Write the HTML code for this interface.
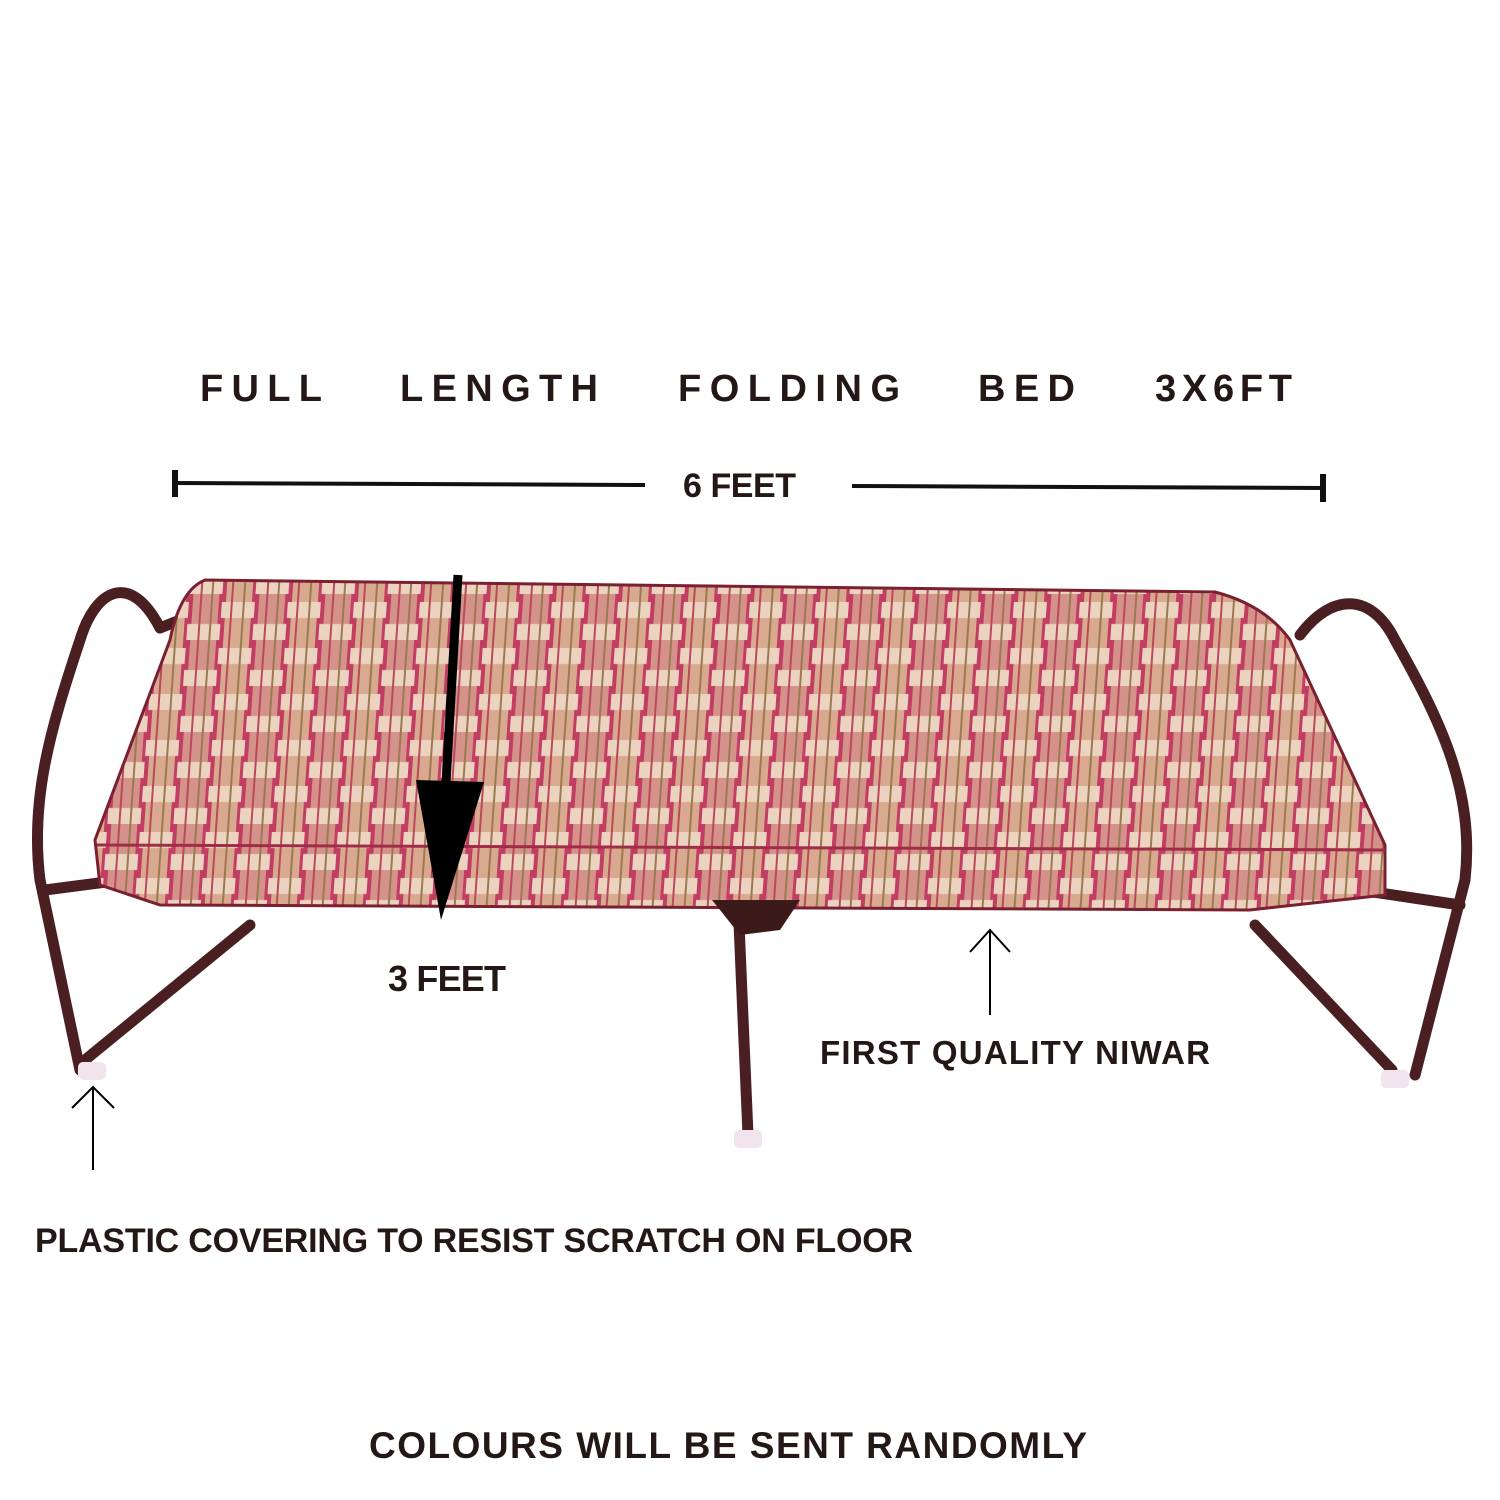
<!DOCTYPE html>
<html><head><meta charset="utf-8"><style>
html,body{margin:0;padding:0;background:#fff}
svg{display:block}
text{font-family:"Liberation Sans",sans-serif;font-weight:bold;fill:#231815}
</style></head><body>
<svg width="1500" height="1500" viewBox="0 0 1500 1500">
<defs>
<pattern id="weave" width="66" height="46" patternUnits="userSpaceOnUse" patternTransform="skewX(-4)">
<rect width="66" height="46" fill="#c23d62"/>
<rect x="4" y="0" width="26" height="46" fill="#d9a98f"/>
<rect x="37" y="0" width="26" height="46" fill="#d4928a"/>
<rect x="0" y="4" width="33" height="16" fill="#ecd3c0"/>
<rect x="33" y="26" width="33" height="16" fill="#ecd3c0"/>
<line x1="10" y1="0" x2="10" y2="46" stroke="#b84a5a" stroke-width="2"/>
<line x1="22" y1="0" x2="22" y2="46" stroke="#9a7a50" stroke-width="2"/>
<line x1="45" y1="0" x2="45" y2="46" stroke="#b84a5a" stroke-width="2"/>
<line x1="56" y1="0" x2="56" y2="46" stroke="#9a7a50" stroke-width="2"/>
</pattern>
</defs>

<g font-size="38">
<text x="200" y="401" textLength="122" lengthAdjust="spacing">FULL</text>
<text x="400" y="401" textLength="198" lengthAdjust="spacing">LENGTH</text>
<text x="678" y="401" textLength="222" lengthAdjust="spacing">FOLDING</text>
<text x="978" y="401" textLength="97" lengthAdjust="spacing">BED</text>
<text x="1155" y="401" textLength="137" lengthAdjust="spacing">3X6FT</text>
</g>

<line x1="175" y1="483" x2="645" y2="485" stroke="#111" stroke-width="4"/>
<line x1="175" y1="470" x2="175" y2="497" stroke="#111" stroke-width="6"/>
<line x1="852" y1="486" x2="1323" y2="488" stroke="#111" stroke-width="4"/>
<line x1="1323" y1="474" x2="1323" y2="502" stroke="#111" stroke-width="6"/>
<text x="683" y="497" font-size="34" textLength="113">6 FEET</text>

<g fill="none" stroke="#4a1f22" stroke-width="11" stroke-linecap="round">
<path d="M160,628 C130,570 95,590 80,640 C50,730 30,800 40,880 L80,1070"/>
<path d="M1300,635 C1330,595 1370,590 1395,640 C1440,720 1475,790 1465,880 L1415,1075"/>
<line x1="45" y1="890" x2="160" y2="875"/>
<line x1="250" y1="925" x2="85" y2="1060"/>
<line x1="1460" y1="905" x2="1360" y2="890"/>
<line x1="1255" y1="925" x2="1392" y2="1070"/>
<line x1="738" y1="900" x2="748" y2="1135"/>
<line x1="160" y1="628" x2="180" y2="620"/>
</g>
<rect x="78" y="1062" width="28" height="18" rx="5" fill="#f1e4ec"/>
<rect x="1381" y="1070" width="28" height="18" rx="5" fill="#f1e4ec"/>
<rect x="734" y="1130" width="28" height="18" rx="5" fill="#f1e4ec"/>

<path d="M205,580 L1215,592 Q1265,605 1290,640 L1385,845 L1385,895 L1250,910 L160,905 L100,885 L95,840 L170,640 Q180,590 205,580 Z" fill="url(#weave)" stroke="#7a2030" stroke-width="3"/>
<path d="M97,845 L1385,850" stroke="#a02c48" stroke-width="3" fill="none"/>
<path d="M712,900 L800,900 L780,930 L740,935 Z" fill="#3d1a1a"/>

<line x1="458" y1="575" x2="445" y2="800" stroke="#000" stroke-width="9"/>
<polygon points="416,780 484,782 441,920" fill="#000"/>
<text x="388" y="991" font-size="36" textLength="118">3 FEET</text>

<g stroke="#000" stroke-width="2" fill="none">
<line x1="990" y1="1015" x2="990" y2="930"/><polyline points="970,952 990,930 1010,952"/>
<line x1="93" y1="1170" x2="93" y2="1087"/><polyline points="72,1108 93,1087 114,1108"/>
</g>
<text x="820" y="1064" font-size="33" textLength="390">FIRST QUALITY NIWAR</text>
<text x="35" y="1252" font-size="34" textLength="878">PLASTIC COVERING TO RESIST SCRATCH ON FLOOR</text>
<text x="369" y="1458" font-size="37" textLength="718">COLOURS WILL BE SENT RANDOMLY</text>
</svg>
</body></html>
